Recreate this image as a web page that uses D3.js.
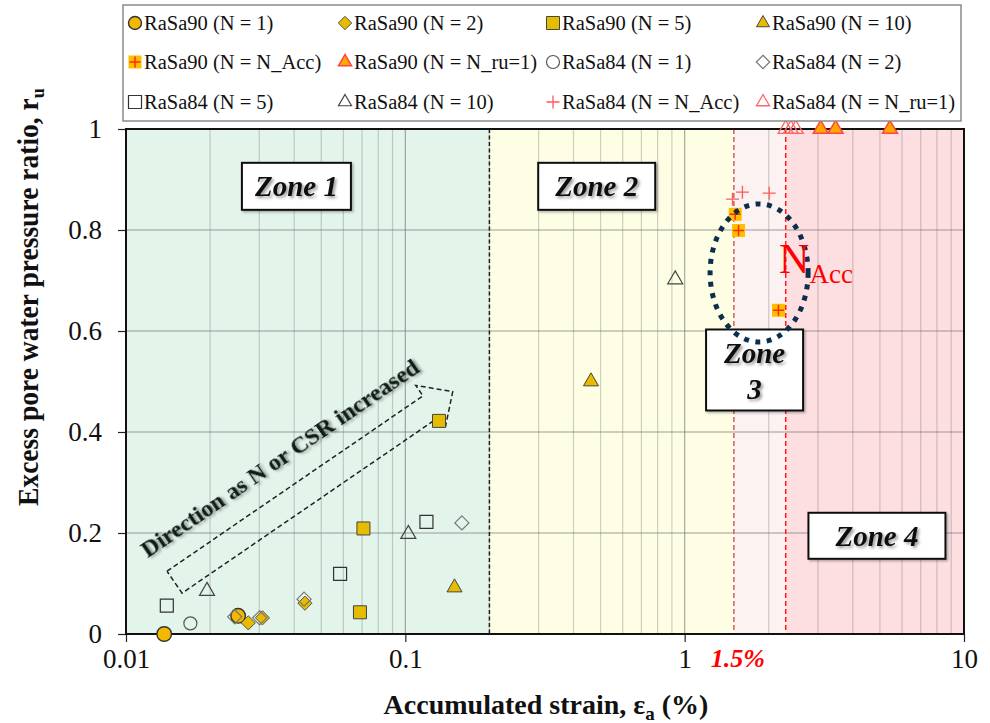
<!DOCTYPE html>
<html>
<head>
<meta charset="utf-8">
<script src="https://cdn.jsdelivr.net/npm/d3@7"></script>
<style>
  body { margin: 0; background: #fff; }
  svg text { font-family: "Liberation Serif", "Times New Roman", serif; }
</style>
</head>
<body>
<div id="chart"></div>
<script>
// ---------------- data ----------------
const xTicks = [0.01, 0.1, 1, 10];
const yTicks = [0, 0.2, 0.4, 0.6, 0.8, 1];

// zone limits on accumulated strain (%)
const zoneEdges = [0.01, 0.2, 1.5, 2.3, 10];
const zoneNames = ["Zone 1", "Zone 2", "Zone 3", "Zone 4"];

// [strain %, ru] per series
const rasa90_N1 = [[0.0137, 0.0], [0.0252, 0.036]];
const rasa90_N2 = [[0.0274, 0.022], [0.0308, 0.032], [0.0437, 0.061]];
const rasa90_N5 = [[0.0688, 0.043], [0.0708, 0.209], [0.132, 0.422]];
const rasa90_N10 = [[0.150, 0.092], [0.462, 0.50]];
const rasa90_NAcc = [[1.517, 0.831], [1.559, 0.799], [2.167, 0.641]];
const rasa90_Nru1 = [[3.07, 1], [3.47, 1], [5.43, 1]];
const rasa84_N1 = [[0.0170, 0.021]];
const rasa84_N2 = [[0.0245, 0.034], [0.0301, 0.032], [0.0434, 0.069], [0.1594, 0.220]];
const rasa84_N5 = [[0.0140, 0.056], [0.0584, 0.119], [0.119, 0.222]];
const rasa84_N10 = [[0.0195, 0.085], [0.1025, 0.198], [0.925, 0.702]];
const rasa84_NAcc = [[1.483, 0.861], [1.61, 0.875], [2.007, 0.873]];
const rasa84_Nru1 = [[2.30, 1], [2.40, 1], [2.50, 1]];

const seriesLabels = [
  "RaSa90 (N = 1)", "RaSa90 (N = 2)", "RaSa90 (N = 5)", "RaSa90 (N = 10)",
  "RaSa90 (N = N_Acc)", "RaSa90 (N = N_ru=1)", "RaSa84 (N = 1)", "RaSa84 (N = 2)",
  "RaSa84 (N = 5)", "RaSa84 (N = 10)", "RaSa84 (N = N_Acc)", "RaSa84 (N = N_ru=1)"
];
const seriesData = [
  rasa90_N1, rasa90_N2, rasa90_N5, rasa90_N10, rasa90_NAcc, rasa90_Nru1,
  rasa84_N1, rasa84_N2, rasa84_N5, rasa84_N10, rasa84_NAcc, rasa84_Nru1
];

// annotation anchors, in data units
const arrowTail = [0.01492, 0.1026];
const arrowTip = [0.1478, 0.48];
const nAccCenter = [1.847, 0.715];

// ---------------- layout ----------------
const svgWidth = 990;
const svgHeight = 723;
const margin = { top: 129, right: 26, bottom: 89, left: 126 };
const width = svgWidth - margin.left - margin.right;
const height = svgHeight - margin.top - margin.bottom;

const zoneColors = ["#e3f4eb", "#fefee5", "#fdf2f2", "#fddfe1"];

// marker styles, one per series (same order as seriesData)
const markerStyles = [
  { shape: "circle", size: 7.3, fill: "#f4b800", stroke: "#333", sw: 1.4 },
  { shape: "diamond", size: 10, fill: "#e8bb00", stroke: "#555", sw: 1 },
  { shape: "square", size: 13, fill: "#e6bc00", stroke: "#444", sw: 1 },
  { shape: "triangle", size: 15, fill: "#e8bb00", stroke: "#444", sw: 1 },
  { shape: "accSquare", size: 13, fill: "#ffbf00", stroke: "#ff2a00", sw: 1.5 },
  { shape: "triangle", size: 15, fill: "#ffa800", stroke: "#ff4545", sw: 1.5 },
  { shape: "circle", size: 6.5, fill: "none", stroke: "#555", sw: 1.2 },
  { shape: "diamond", size: 10, fill: "none", stroke: "#777", sw: 1.2 },
  { shape: "square", size: 13, fill: "none", stroke: "#333", sw: 1.2 },
  { shape: "triangle", size: 15, fill: "none", stroke: "#444", sw: 1.2 },
  { shape: "plus", size: 13, fill: "none", stroke: "#ff5a5a", sw: 1.3 },
  { shape: "triangle", size: 15, fill: "none", stroke: "#ff6666", sw: 1.3 }
];

const svgRoot = d3.select("#chart")
  .append("svg")
  .attr("width", svgWidth)
  .attr("height", svgHeight);

const defs = svgRoot.append("defs");
const shadow = defs.append("filter").attr("id", "txtShadow")
  .attr("x", "-10%").attr("y", "-30%").attr("width", "120%").attr("height", "160%");
shadow.append("feDropShadow").attr("dx", 2).attr("dy", 2)
  .attr("stdDeviation", 1.6).attr("flood-color", "#000").attr("flood-opacity", 0.4);
const boxShadow = defs.append("filter").attr("id", "boxShadow")
  .attr("x", "-10%").attr("y", "-10%").attr("width", "130%").attr("height", "140%");
boxShadow.append("feDropShadow").attr("dx", 1.5).attr("dy", 1.5)
  .attr("stdDeviation", 1.2).attr("flood-color", "#000").attr("flood-opacity", 0.3);

const svg = svgRoot.append("g")
  .attr("transform", `translate(${margin.left},${margin.top})`);

const xScale = d3.scaleLog().domain([0.01, 10]).range([0, width]);
const yScale = d3.scaleLinear().domain([0, 1]).range([height, 0]);

// ---------------- zones ----------------
svg.selectAll(".zone")
  .data(zoneColors)
  .enter()
  .append("rect")
  .attr("class", "zone")
  .attr("x", (d, i) => xScale(zoneEdges[i]))
  .attr("y", 0)
  .attr("width", (d, i) => xScale(zoneEdges[i + 1]) - xScale(zoneEdges[i]))
  .attr("height", height)
  .attr("fill", d => d);

// ---------------- grid ----------------
const minorX = [];
[0.01, 0.1, 1].forEach(dec => {
  for (let k = 1; k <= 9; k++) {
    if (dec === 0.01 && k === 1) continue;
    minorX.push(k * dec);
  }
});
svg.append("g").selectAll("line")
  .data(minorX)
  .enter()
  .append("line")
  .attr("x1", d => xScale(d)).attr("x2", d => xScale(d))
  .attr("y1", 0).attr("y2", height)
  .attr("stroke", "#6e6e6e")
  .attr("stroke-opacity", d => (Math.abs(Math.log10(d) - Math.round(Math.log10(d))) < 1e-9) ? 0.6 : 0.32)
  .attr("stroke-width", 1.2);

svg.append("g").selectAll("line")
  .data(yTicks.slice(1, -1))
  .enter()
  .append("line")
  .attr("x1", 0).attr("x2", width)
  .attr("y1", d => yScale(d)).attr("y2", d => yScale(d))
  .attr("stroke", "#6e6e6e")
  .attr("stroke-opacity", 0.45)
  .attr("stroke-width", 1.3);

// zone boundary lines
const boundaryStyle = [
  { c: "#222", dash: "4,2.5" },
  { c: "#d45a5a", dash: "5,3" },
  { c: "#ff1a1a", dash: "5,3" }
];
svg.append("g").selectAll("line")
  .data(zoneEdges.slice(1, -1))
  .enter()
  .append("line")
  .attr("x1", d => xScale(d)).attr("x2", d => xScale(d))
  .attr("y1", 0).attr("y2", height)
  .attr("stroke", (d, i) => boundaryStyle[i].c)
  .attr("stroke-dasharray", (d, i) => boundaryStyle[i].dash)
  .attr("stroke-width", 1.5);

// ---------------- axes ----------------
const xAxis = d3.axisBottom(xScale)
  .tickValues(xTicks)
  .tickFormat(d => String(d))
  .tickSize(8)
  .tickSizeOuter(0);
const yAxis = d3.axisLeft(yScale)
  .tickValues(yTicks)
  .tickFormat(d => String(d))
  .tickSize(8)
  .tickSizeOuter(0);

const gx = svg.append("g")
  .attr("class", "x-axis")
  .attr("transform", `translate(0,${height})`)
  .call(xAxis);
gx.select(".domain").remove();
gx.selectAll("line").attr("stroke", "#222").attr("stroke-width", 1.2);
gx.selectAll("text")
  .attr("font-size", 27)
  .attr("fill", "#111")
  .attr("y", 34)
  .attr("dy", 0)
  .style("font-family", "Liberation Serif, serif");

const gy = svg.append("g")
  .attr("class", "y-axis")
  .call(yAxis);
gy.select(".domain").remove();
gy.selectAll("line").attr("stroke", "#222").attr("stroke-width", 1.2);
gy.selectAll("text")
  .attr("font-size", 27)
  .attr("fill", "#111")
  .attr("x", -24)
  .attr("dy", "0.33em")
  .style("font-family", "Liberation Serif, serif");

// plot border
svg.append("rect")
  .attr("x", 0).attr("y", 0)
  .attr("width", width).attr("height", height)
  .attr("fill", "none")
  .attr("stroke", "#111")
  .attr("stroke-width", 2);

// ---------------- annotations ----------------
// zone labels (top-left corner in data units)
const zoneBoxes = [
  { x: 0.026, y: 0.933, w: 109, h: 47 },
  { x: 0.299, y: 0.933, w: 117, h: 47 },
  { x: 1.193, y: 0.603, w: 97, h: 81 },
  { x: 2.774, y: 0.240, w: 137, h: 46 }
];
zoneBoxes.forEach((b, i) => {
  const g = svg.append("g")
    .attr("transform", `translate(${xScale(b.x)},${yScale(b.y)})`);
  g.append("rect")
    .attr("width", b.w).attr("height", b.h)
    .attr("fill", "#fff").attr("stroke", "#111").attr("stroke-width", 2)
    .attr("filter", "url(#boxShadow)");
  const t = g.append("text")
    .attr("text-anchor", "middle")
    .attr("font-size", 29)
    .attr("font-weight", "bold")
    .attr("font-style", "italic")
    .attr("fill", "#111")
    .attr("filter", "url(#txtShadow)");
  if (i === 2) {
    t.append("tspan").attr("x", b.w / 2).attr("y", 34).text("Zone");
    t.append("tspan").attr("x", b.w / 2).attr("y", 70).text("3");
  } else {
    t.attr("x", b.w / 2).attr("y", b.h / 2 + 10).text(zoneNames[i]);
  }
});

// direction arrow
const ax0 = xScale(arrowTail[0]), ay0 = yScale(arrowTail[1]);
const ax1 = xScale(arrowTip[0]), ay1 = yScale(arrowTip[1]);
const arrowLen = Math.hypot(ax1 - ax0, ay1 - ay0);
const arrowAng = Math.atan2(ay1 - ay0, ax1 - ax0) * 180 / Math.PI;
const arrowG = svg.append("g")
  .attr("transform", `translate(${ax0},${ay0}) rotate(${arrowAng})`);
const shaftW = 13.3, headW = 26, headL = 27;
arrowG.append("path")
  .attr("d", d3.line()([
    [0, -shaftW], [arrowLen - headL, -shaftW], [arrowLen - headL, -headW],
    [arrowLen, 0], [arrowLen - headL, headW], [arrowLen - headL, shaftW],
    [0, shaftW], [0, -shaftW]
  ]))
  .attr("fill", "none")
  .attr("stroke", "#222")
  .attr("stroke-width", 1.5)
  .attr("stroke-dasharray", "5,3");
arrowG.append("text")
  .attr("x", 157)
  .attr("y", -35)
  .attr("text-anchor", "middle")
  .attr("font-size", 24)
  .attr("font-weight", "bold")
  .attr("fill", "#0d1a12")
  .attr("filter", "url(#txtShadow)")
  .text("Direction as N or CSR increased");

// ---------------- series ----------------
function markerPath(shape, size) {
  const p = d3.path();
  const h = size / 2;
  if (shape === "circle") {
    p.arc(0, 0, size, 0, 2 * Math.PI);
  } else if (shape === "square" || shape === "accSquare") {
    p.rect(-h, -h, size, size);
  } else if (shape === "diamond") {
    const r = size * Math.SQRT1_2;
    p.moveTo(0, -r); p.lineTo(r, 0); p.lineTo(0, r); p.lineTo(-r, 0); p.closePath();
  } else if (shape === "triangle") {
    const th = size * Math.sqrt(3) / 2;
    p.moveTo(0, -th * 2 / 3); p.lineTo(h, th / 3); p.lineTo(-h, th / 3); p.closePath();
  } else if (shape === "plus") {
    p.moveTo(-h, 0); p.lineTo(h, 0); p.moveTo(0, -h); p.lineTo(0, h);
  }
  return p.toString();
}

function drawMarker(g, st) {
  if (st.shape === "accSquare") {
    g.append("path").attr("d", markerPath("square", st.size)).attr("fill", st.fill);
    g.append("path").attr("d", markerPath("plus", st.size * 0.85))
      .attr("fill", "none").attr("stroke", st.stroke).attr("stroke-width", st.sw);
  } else {
    g.append("path")
      .attr("d", markerPath(st.shape, st.size))
      .attr("fill", st.fill)
      .attr("stroke", st.stroke)
      .attr("stroke-width", st.sw);
  }
}

seriesData.forEach((pts, si) => {
  svg.append("g")
    .attr("class", "series")
    .selectAll("g")
    .data(pts)
    .enter()
    .append("g")
    .attr("transform", d => `translate(${xScale(d[0])},${yScale(d[1])})`)
    .each(function () { drawMarker(d3.select(this), markerStyles[si]); });
});

// N_Acc ellipse and label
svg.append("ellipse")
  .attr("cx", xScale(nAccCenter[0]))
  .attr("cy", yScale(nAccCenter[1]))
  .attr("rx", 49).attr("ry", 69)
  .attr("fill", "none")
  .attr("stroke", "#0c2e4c")
  .attr("stroke-width", 5)
  .attr("stroke-dasharray", "5,6.5");

const nAccText = svg.append("text")
  .attr("x", xScale(nAccCenter[0]) + 20)
  .attr("y", yScale(nAccCenter[1]))
  .attr("fill", "#ff0000");
nAccText.append("tspan").attr("font-size", 42).text("N");
nAccText.append("tspan").attr("font-size", 27).attr("dy", 10).text("Acc");

svg.append("text")
  .attr("x", xScale(zoneEdges[2]) + 4)
  .attr("y", height + 33)
  .attr("text-anchor", "middle")
  .attr("font-size", 26)
  .attr("font-weight", "bold")
  .attr("font-style", "italic")
  .attr("fill", "#ff0000")
  .text("1.5%");

// ---------------- axis titles ----------------
const xTitle = svgRoot.append("text")
  .attr("transform", `translate(${margin.left + 420},714)`)
  .attr("text-anchor", "middle")
  .attr("font-size", 28)
  .attr("font-weight", "bold")
  .attr("fill", "#111");
xTitle.append("tspan").text("Accumulated strain, ε");
xTitle.append("tspan").attr("font-size", 19).attr("dy", 6).text("a");
xTitle.append("tspan").attr("dy", -6).text(" (%)");

const yTitle = svgRoot.append("text")
  .attr("transform", "translate(38,506) rotate(-90) scale(0.95,1)")
  .attr("text-anchor", "start")
  .attr("font-size", 29)
  .attr("font-weight", "bold")
  .attr("fill", "#111");
yTitle.append("tspan").text("Excess pore water pressure ratio, r");
yTitle.append("tspan").attr("font-size", 19).attr("dy", 6).text("u");

// ---------------- legend ----------------
const legendCols = [135, 345, 553, 763];
const legendRows = [23, 62, 102];
svgRoot.append("rect")
  .attr("x", 123).attr("y", 5)
  .attr("width", 838).attr("height", 116)
  .attr("fill", "#fff")
  .attr("stroke", "#8a8a8a")
  .attr("stroke-width", 1.5);

const legend = svgRoot.append("g")
  .selectAll("g")
  .data(seriesLabels)
  .enter()
  .append("g")
  .attr("transform", (d, i) => `translate(${legendCols[i % 4]},${legendRows[Math.floor(i / 4)]})`);
legend.each(function (d, i) {
  const st = Object.assign({}, markerStyles[i]);
  st.size = st.shape === "circle" ? 6.5 : st.shape === "diamond" ? 9.5 : 13;
  drawMarker(d3.select(this), st);
});
legend.append("text")
  .attr("x", 9)
  .attr("dy", "0.33em")
  .attr("font-size", 20.5)
  .attr("fill", "#111")
  .text(d => d);
</script>
</body>
</html>
